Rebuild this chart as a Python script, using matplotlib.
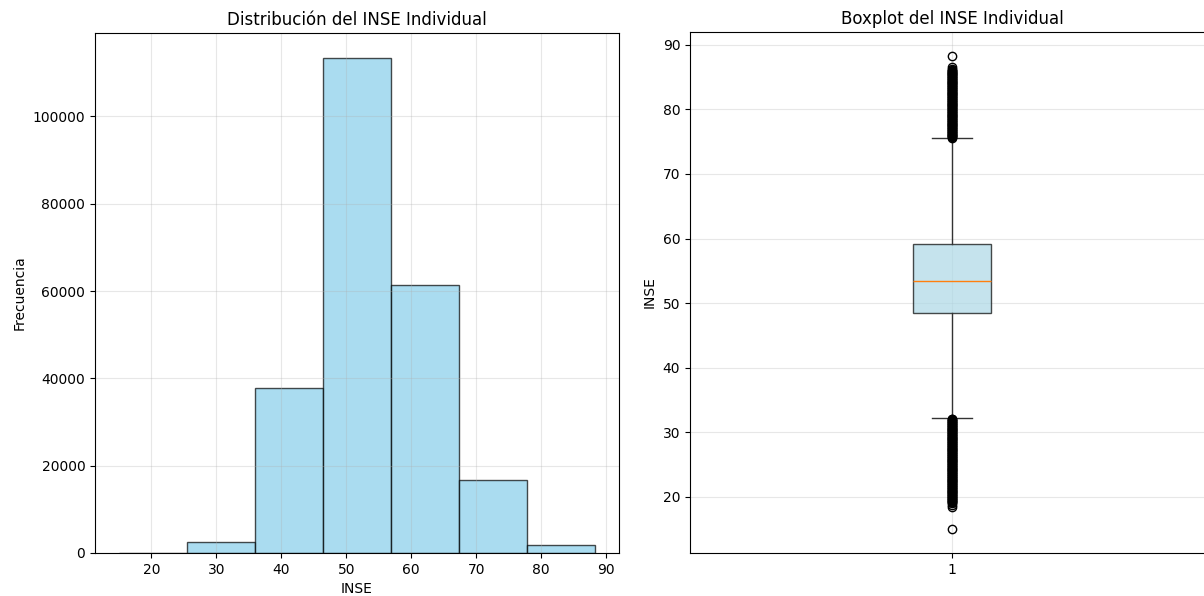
import matplotlib
matplotlib.use("Agg")
import matplotlib.pyplot as plt
import numpy as np

# Histogram data
bin_edges = [15.0, 25.47, 35.94, 46.41, 56.89, 67.36, 77.83, 88.3]
bin_counts = [90, 2600, 37750, 113450, 61450, 16750, 1750]

# Boxplot summary statistics
box_q1 = 48.5
box_med = 53.5
box_q3 = 59.2
whisker_low = 32.2
whisker_high = 75.5
fliers_high = [75.6, 75.7, 75.8, 75.9, 76.0, 76.1, 76.2, 76.3, 76.4, 76.5,
               76.6, 76.7, 76.8, 76.9, 77.0, 77.1, 77.2, 77.3, 77.4, 77.5,
               77.6, 77.7, 77.8, 77.9, 78.0, 78.1, 78.2, 78.3, 78.4, 78.5,
               78.6, 78.7, 78.8, 78.9, 79.0, 79.1, 79.2, 79.3, 79.4, 79.5,
               79.6, 79.7, 79.8, 79.9, 80.0, 80.1, 80.2, 80.3, 80.4, 80.5,
               80.6, 80.7, 80.8, 80.9, 81.0, 81.1, 81.2, 81.3, 81.4, 81.5,
               81.6, 81.7, 81.8, 81.9, 82.0, 82.1, 82.2, 82.3, 82.4, 82.5,
               82.6, 82.7, 82.8, 82.9, 83.0, 83.1, 83.2, 83.3, 83.4, 83.5,
               83.6, 83.7, 83.8, 83.9, 84.0, 84.1, 84.2, 84.3, 84.4, 84.5,
               84.6, 84.7, 84.8, 84.9, 85.0, 85.1, 85.2, 85.3, 85.4, 85.5,
               85.6, 85.7, 85.8, 85.9, 86.0, 86.1, 86.3, 86.5, 88.3]
fliers_low = [32.1, 32.0, 31.9, 31.8, 31.7, 31.6, 31.5, 31.4, 31.3, 31.2,
              31.1, 31.0, 30.9, 30.8, 30.7, 30.6, 30.5, 30.4, 30.3, 30.2,
              30.1, 30.0, 29.9, 29.8, 29.7, 29.6, 29.5, 29.4, 29.3, 29.2,
              29.1, 29.0, 28.9, 28.8, 28.7, 28.6, 28.5, 28.4, 28.3, 28.2,
              28.1, 28.0, 27.9, 27.8, 27.7, 27.6, 27.5, 27.4, 27.3, 27.2,
              27.1, 27.0, 26.9, 26.8, 26.7, 26.6, 26.5, 26.4, 26.3, 26.2,
              26.1, 26.0, 25.9, 25.8, 25.7, 25.6, 25.5, 25.4, 25.3, 25.2,
              25.1, 25.0, 24.9, 24.8, 24.7, 24.6, 24.5, 24.4, 24.3, 24.2,
              24.1, 24.0, 23.9, 23.8, 23.7, 23.6, 23.5, 23.4, 23.3, 23.2,
              23.1, 23.0, 22.9, 22.8, 22.7, 22.6, 22.5, 22.4, 22.3, 22.2,
              22.1, 22.0, 21.9, 21.8, 21.7, 21.6, 21.5, 21.4, 21.3, 21.2,
              21.1, 21.0, 20.9, 20.8, 20.7, 20.6, 20.5, 20.4, 20.3, 20.2,
              20.1, 20.0, 19.9, 19.8, 19.7, 19.6, 19.5, 19.4, 19.3, 19.2,
              19.0, 18.8, 18.5, 15.0]

fig = plt.figure(figsize=(12.04, 5.96), dpi=100)
W, H = 1204, 596
ax1 = fig.add_axes([95 / W, (H - 553) / H, 524 / W, 520 / H])
ax2 = fig.add_axes([690 / W, (H - 553) / H, 524 / W, 521 / H])

# Histogram
ax1.hist(bin_edges[:-1], bins=bin_edges, weights=bin_counts,
         color='skyblue', edgecolor='black', alpha=0.7)
ax1.set_title('Distribución del INSE Individual', fontsize=12)
ax1.set_xlabel('INSE')
ax1.set_ylabel('Frecuencia')
ax1.grid(True, alpha=0.3)

# Boxplot
stats = [dict(med=box_med, q1=box_q1, q3=box_q3, whislo=whisker_low,
              whishi=whisker_high, fliers=fliers_high + fliers_low, label='1')]
bp = ax2.bxp(stats, widths=0.15, patch_artist=True)
for b in bp['boxes']:
    b.set_facecolor('lightblue')
    b.set_alpha(0.7)
for w in bp['whiskers'] + bp['caps']:
    w.set_color('#333333')
ax2.set_xlim(0.5, 1.5)
ax2.set_ylim(11.33, 91.97)
ax2.set_title('Boxplot del INSE Individual', fontsize=12)
ax2.set_ylabel('INSE')
ax2.grid(True, alpha=0.3)

fig.savefig('out.png', dpi=100)
